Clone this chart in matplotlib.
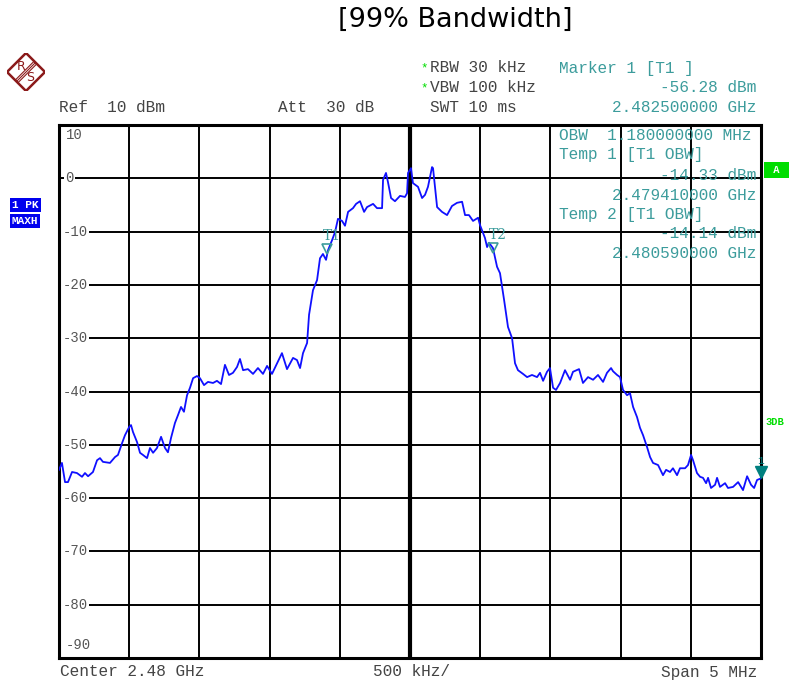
import matplotlib
matplotlib.use("Agg")
import matplotlib.pyplot as plt
import numpy as np

# trace: frequency offset from center (MHz) and level (dBm)
freq_mhz = [-2.500, -2.479, -2.457, -2.436, -2.407, -2.372, -2.336, -2.315, -2.293, -2.258,
            -2.229, -2.208, -2.187, -2.137, -2.101, -2.080, -2.051, -2.030, -2.001, -1.987,
            -1.973, -1.944, -1.923, -1.902, -1.873, -1.852, -1.830, -1.802, -1.773, -1.745,
            -1.724, -1.702, -1.674, -1.652, -1.631, -1.610, -1.588, -1.567, -1.545, -1.517,
            -1.496, -1.467, -1.439, -1.403, -1.375, -1.346, -1.318, -1.289, -1.261, -1.232,
            -1.211, -1.189, -1.154, -1.118, -1.083, -1.047, -1.018, -0.983, -0.947, -0.912,
            -0.876, -0.833, -0.805, -0.783, -0.762, -0.733, -0.719, -0.691, -0.662, -0.641,
            -0.620, -0.598, -0.584, -0.555, -0.534, -0.513, -0.484, -0.463, -0.441, -0.406,
            -0.384, -0.356, -0.327, -0.306, -0.263, -0.235, -0.199, -0.192, -0.171, -0.157,
            -0.135, -0.107, -0.071, -0.036, -0.021, -0.014, 0.007, 0.021, 0.057, 0.086,
            0.107, 0.128, 0.157, 0.164, 0.193, 0.228, 0.264, 0.299, 0.335, 0.371,
            0.392, 0.420, 0.449, 0.485, 0.499, 0.534, 0.549, 0.563, 0.591, 0.620,
            0.641, 0.670, 0.698, 0.727, 0.748, 0.769, 0.805, 0.834, 0.869, 0.905,
            0.926, 0.948, 0.976, 0.997, 1.019, 1.040, 1.069, 1.104, 1.140, 1.161,
            1.204, 1.232, 1.268, 1.304, 1.339, 1.375, 1.403, 1.432, 1.446, 1.475,
            1.496, 1.517, 1.546, 1.567, 1.589, 1.617, 1.638, 1.660, 1.688, 1.710,
            1.731, 1.767, 1.802, 1.824, 1.852, 1.873, 1.902, 1.923, 1.959, 1.980,
            2.002, 2.016, 2.044, 2.066, 2.087, 2.109, 2.123, 2.144, 2.173, 2.187,
            2.208, 2.244, 2.265, 2.301, 2.337, 2.372, 2.401, 2.429, 2.451, 2.472, 2.500]
level_dbm = [-54.7, -53.4, -57.0, -57.0, -55.1, -55.3, -56.0, -55.3, -55.9, -55.1,
             -52.9, -52.5, -53.2, -53.4, -52.3, -51.9, -49.7, -48.2, -46.7, -46.3,
             -47.6, -49.5, -51.5, -51.9, -52.5, -50.6, -51.5, -50.6, -48.5, -50.6,
             -51.4, -48.7, -45.9, -44.4, -42.9, -43.8, -40.7, -39.3, -37.5, -37.1,
             -37.5, -38.8, -38.2, -38.4, -38.0, -38.6, -35.0, -36.9, -36.5, -35.4,
             -33.9, -36.0, -35.8, -36.7, -35.6, -36.7, -35.2, -36.7, -34.7, -32.8,
             -35.8, -33.7, -34.1, -35.6, -32.8, -30.9, -25.6, -21.0, -19.1, -15.0,
             -14.2, -15.3, -13.5, -11.6, -10.1, -7.6, -8.0, -8.9, -6.3, -5.6,
             -4.8, -4.3, -6.3, -5.4, -4.8, -5.6, -5.6, -0.3, 1.0, -0.7,
             -3.7, -4.3, -3.3, -3.5, -2.8, 1.0, 1.9, -0.9, -1.6, -3.7,
             -3.1, -1.6, 2.1, 1.9, -5.4, -6.3, -6.9, -5.2, -4.6, -4.4,
             -6.9, -6.9, -8.0, -7.4, -8.8, -11.2, -12.9, -12.1, -13.1, -16.6,
             -17.8, -22.8, -27.9, -30.0, -34.7, -36.0, -36.7, -37.3, -36.9, -37.3,
             -36.5, -38.0, -36.3, -35.6, -39.3, -39.7, -38.4, -36.0, -37.8, -36.3,
             -35.8, -38.4, -37.3, -37.8, -36.9, -38.2, -36.5, -35.6, -36.2, -36.9,
             -37.3, -39.7, -40.7, -40.3, -42.9, -44.8, -46.8, -48.2, -50.4, -52.3,
             -53.4, -53.8, -55.7, -54.7, -55.1, -54.4, -55.7, -54.4, -54.4, -53.8,
             -51.9, -52.9, -55.3, -56.0, -56.2, -57.2, -56.2, -58.1, -57.5, -56.2,
             -57.9, -57.2, -58.1, -57.9, -57.0, -58.5, -55.9, -57.5, -58.1, -56.6, -56.3]

# markers (offset MHz, dBm)
temp_names = ["T1", "T2"]
temp_freq = [-0.59, 0.59]
temp_level = [-14.33, -14.14]
marker1_freq = 2.5
marker1_level = -56.28

ytick_vals = [0, -10, -20, -30, -40, -50, -60, -70, -80]

teal = "#3c9c9c"
gray = "#444444"
mono = "Liberation Mono"
W, H = 790, 680


def ftext(x, y, s, **kw):
    # place text by pixel position in the figure
    kw.setdefault("family", mono)
    kw.setdefault("fontsize", 11.6)
    kw.setdefault("va", "center")
    return fig.text(x / W, 1 - y / H, s, **kw)


fig = plt.figure(figsize=(7.9, 6.8), dpi=100)
ax = fig.add_axes([59 / W, 1 - 658 / H, 702 / W, 533 / H])

ax.plot(freq_mhz, level_dbm, color="#1010ff", lw=1.3, zorder=3)

ax.set_xlim(-2.5, 2.5)
ax.set_ylim(-90, 10)
ax.set_xticks(np.arange(-2.5, 2.51, 0.5))
ax.set_yticks(np.arange(-90, 11, 10))
ax.grid(True, color="black", lw=1.4, zorder=1)
ax.tick_params(length=0, labelbottom=False, labelleft=False)
ax.axvline(0, color="black", lw=3, zorder=2)
for sp in ax.spines.values():
    sp.set_linewidth(2.2)

# level labels inside the grid
for v in ytick_vals:
    lab = "0" if v == 0 else "-%d" % abs(v)
    ax.text(-2.475 if v else -2.455, v, lab, family=mono, fontsize=10,
            color="#555555", va="center", ha="left", zorder=2,
            bbox=dict(facecolor="white", edgecolor="none", pad=1.0))
ax.text(-2.45, 8.2, "10", family=mono, fontsize=10, color="#555555", va="center")
ax.text(-2.45, -87.6, "-90", family=mono, fontsize=10, color="#555555", va="center")

# temp markers
for name, f, l in zip(temp_names, temp_freq, temp_level):
    ax.plot(f, l + 1.1, marker="v", ms=7, mfc="none", mec=teal, mew=1.2, zorder=4)
    ax.text(f + 0.035, l + 3.5, name, family="DejaVu Serif", fontsize=10, color=teal,
            ha="center", va="center", zorder=4)
ax.plot(marker1_freq, marker1_level + 1.2, marker="v", ms=8, color="#008080",
        clip_on=False, zorder=5)
ax.text(marker1_freq, marker1_level + 3.3, "1", family=mono, fontsize=8, color="#008080",
        ha="center", va="center", clip_on=False)

# title
ftext(455, 20, "[99% Bandwidth]", family="DejaVu Sans", fontsize=19.5, ha="center")

# header
ftext(59, 107, "Ref  10 dBm", color=gray)
ftext(278, 107, "Att  30 dB", color=gray)
ftext(420, 68, "*", color="#00dd00", fontsize=9)
ftext(430, 68, "RBW 30 kHz", color=gray)
ftext(420, 88, "*", color="#00dd00", fontsize=9)
ftext(430, 88, "VBW 100 kHz", color=gray)
ftext(430, 107, "SWT 10 ms", color=gray)
ftext(559, 68, "Marker 1 [T1 ]", color=teal)
ftext(756, 88, "-56.28 dBm", color=teal, ha="right")
ftext(756, 107, "2.482500000 GHz", color=teal, ha="right")

# OBW readout inside the screen
ftext(559, 135, "OBW  1.180000000 MHz", color=teal)
ftext(559, 155, "Temp 1 [T1 OBW]", color=teal)
ftext(756, 176, "-14.33 dBm", color=teal, ha="right")
ftext(756, 195, "2.479410000 GHz", color=teal, ha="right")
ftext(559, 214, "Temp 2 [T1 OBW]", color=teal)
ftext(756, 234, "-14.14 dBm", color=teal, ha="right")
ftext(756, 253, "2.480590000 GHz", color=teal, ha="right")

# footer
ftext(60, 672, "Center 2.48 GHz", color=gray)
ftext(373, 672, "500 kHz/", color=gray)
ftext(757, 672, "Span 5 MHz", color=gray, ha="right")

# side badges
ftext(12, 205, "1 PK", color="white", fontsize=8, weight="bold",
      bbox=dict(facecolor="#0000ee", edgecolor="none", pad=1.5))
ftext(12, 221, "MAXH", color="white", fontsize=8, weight="bold",
      bbox=dict(facecolor="#0000ee", edgecolor="none", pad=1.2))
ftext(767, 170, " A ", color="white", fontsize=7.5, weight="bold",
      bbox=dict(facecolor="#00dd00", edgecolor="none", pad=2.0))
ftext(765, 422, "3DB", color="#00dd00", fontsize=7.5, weight="bold")

# R&S logo
lg = fig.add_axes([7 / W, 1 - 91 / H, 38 / W, 38 / H])
lg.set_xlim(0, 1)
lg.set_ylim(0, 1)
lg.axis("off")
red = "#8b1a1a"
lg.plot([0.5, 1, 0.5, 0, 0.5], [1, 0.5, 0, 0.5, 1], color=red, lw=1.8)
for d in (-0.035, 0, 0.035):
    lg.plot([0.25 - d, 0.75 - d], [0.25 + d, 0.75 + d], color=red, lw=0.8)
lg.text(0.38, 0.64, "R", color=red, fontsize=9, ha="center", va="center")
lg.text(0.62, 0.35, "S", color=red, fontsize=9, ha="center", va="center")

fig.savefig("out.png", dpi=100)
